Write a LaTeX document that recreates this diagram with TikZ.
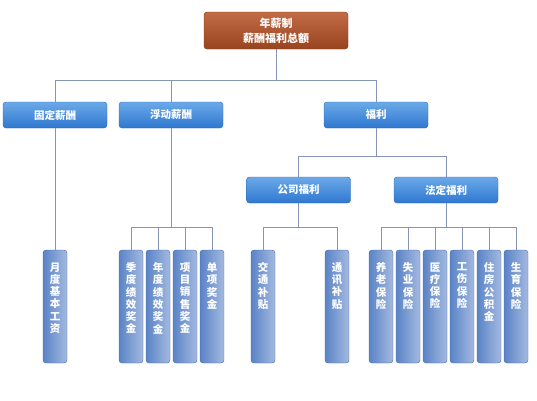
\documentclass[tikz,border=0pt]{standalone}
\usepackage{fontspec}
\setmainfont{Noto Sans CJK SC}
\usetikzlibrary{positioning,calc}
\usepackage{xcolor}

\definecolor{rustlight}{HTML}{C26C47}
\definecolor{rustmid}{HTML}{98441F}
\definecolor{rustdark}{HTML}{7A361A}
\definecolor{bluelight}{HTML}{6BAAE9}
\definecolor{bluemid}{HTML}{2F77D0}
\definecolor{bluedark}{HTML}{2D66B2}
\definecolor{leafleft}{HTML}{5A84C7}
\definecolor{leafright}{HTML}{A4B9DF}
\definecolor{leafdark}{HTML}{4A6CAA}
\definecolor{linegray}{HTML}{8494B4}

\newcommand{\vstack}[1]{\parbox[t][88pt][t]{16pt}{\centering #1}}

\begin{document}
\begin{tikzpicture}[x=1pt, y=-1pt,
    head/.style={draw=rustdark, top color=rustlight, bottom color=rustmid,
                 rounded corners=3pt, minimum width=144pt, minimum height=37pt,
                 text=white, align=center,
                 font=\bfseries\fontsize{11}{15}\selectfont},
    catbox/.style={draw=bluedark, top color=bluelight, bottom color=bluemid,
                   rounded corners=3pt, minimum width=104pt, minimum height=26pt,
                   text=white, font=\bfseries\fontsize{10.5}{12}\selectfont},
    leaf/.style={draw=leafdark, left color=leafleft, right color=leafright,
                 rounded corners=3pt, minimum width=24pt, minimum height=113pt,
                 inner sep=0pt, text=white,
                 font=\bfseries\fontsize{10.5}{12.3}\selectfont},
    link/.style={draw=linegray, line width=0.9pt}
  ]
  \useasboundingbox (0,0) rectangle (537,400);
  %% Top
  \node[head] (head) at (276, 30.5) {年薪制\\薪酬福利总额};
  %% Second level
  \node[catbox] (fixed)   at (55,  115) {固定薪酬};
  \node[catbox] (float)   at (171, 115) {浮动薪酬};
  \node[catbox] (welfare) at (376, 115) {福利};
  %% Third level
  \node[catbox] (company) at (298.5, 190) {公司福利};
  \node[catbox] (legal)   at (446,   190) {法定福利};
  %% Leaves
  \node[leaf] (monthly)  at (55,  306.5) {\vstack{月\\度\\基\\本\\工\\资}};
  \node[leaf] (quarter)  at (131, 306.5) {\vstack{季\\度\\绩\\效\\奖\\金}};
  \node[leaf] (annual)   at (158, 306.5) {\vstack{年\\度\\绩\\效\\奖\\金}};
  \node[leaf] (project)  at (185, 306.5) {\vstack{项\\目\\销\\售\\奖\\金}};
  \node[leaf] (single)   at (212, 306.5) {\vstack{单\\项\\奖\\金}};
  \node[leaf] (traffic)  at (263, 306.5) {\vstack{交\\通\\补\\贴}};
  \node[leaf] (phone)    at (337, 306.5) {\vstack{通\\讯\\补\\贴}};
  \node[leaf] (pension)  at (381, 306.5) {\vstack{养\\老\\保\\险}};
  \node[leaf] (jobless)  at (408, 306.5) {\vstack{失\\业\\保\\险}};
  \node[leaf] (medical)  at (435, 306.5) {\vstack{医\\疗\\保\\险}};
  \node[leaf] (injury)   at (462, 306.5) {\vstack{工\\伤\\保\\险}};
  \node[leaf] (housing)  at (489, 306.5) {\vstack{住\\房\\公\\积\\金}};
  \node[leaf] (birth)    at (516, 306.5) {\vstack{生\\育\\保\\险}};
  %% Bus points
  \coordinate (bus1) at (276,   80);
  \coordinate (bus2) at (376,   156);
  \coordinate (bus3) at (171,   227);
  \coordinate (bus4) at (298.5, 227);
  \coordinate (bus5) at (446,   227);
  %% Links
  \draw[link] (head.south) -- (bus1) -| (fixed.north);
  \draw[link] (bus1) -| (float.north);
  \draw[link] (bus1) -| (welfare.north);
  \draw[link] (welfare.south) -- (bus2) -| (company.north);
  \draw[link] (bus2) -| (legal.north);
  \draw[link] (fixed.south) -- (monthly.north);
  \draw[link] (float.south) -- (bus3) -| (quarter.north);
  \draw[link] (bus3) -| (annual.north);
  \draw[link] (bus3) -| (project.north);
  \draw[link] (bus3) -| (single.north);
  \draw[link] (company.south) -- (bus4) -| (traffic.north);
  \draw[link] (bus4) -| (phone.north);
  \draw[link] (legal.south) -- (bus5) -| (pension.north);
  \draw[link] (bus5) -| (jobless.north);
  \draw[link] (bus5) -| (medical.north);
  \draw[link] (bus5) -| (injury.north);
  \draw[link] (bus5) -| (housing.north);
  \draw[link] (bus5) -| (birth.north);
\end{tikzpicture}
\end{document}
